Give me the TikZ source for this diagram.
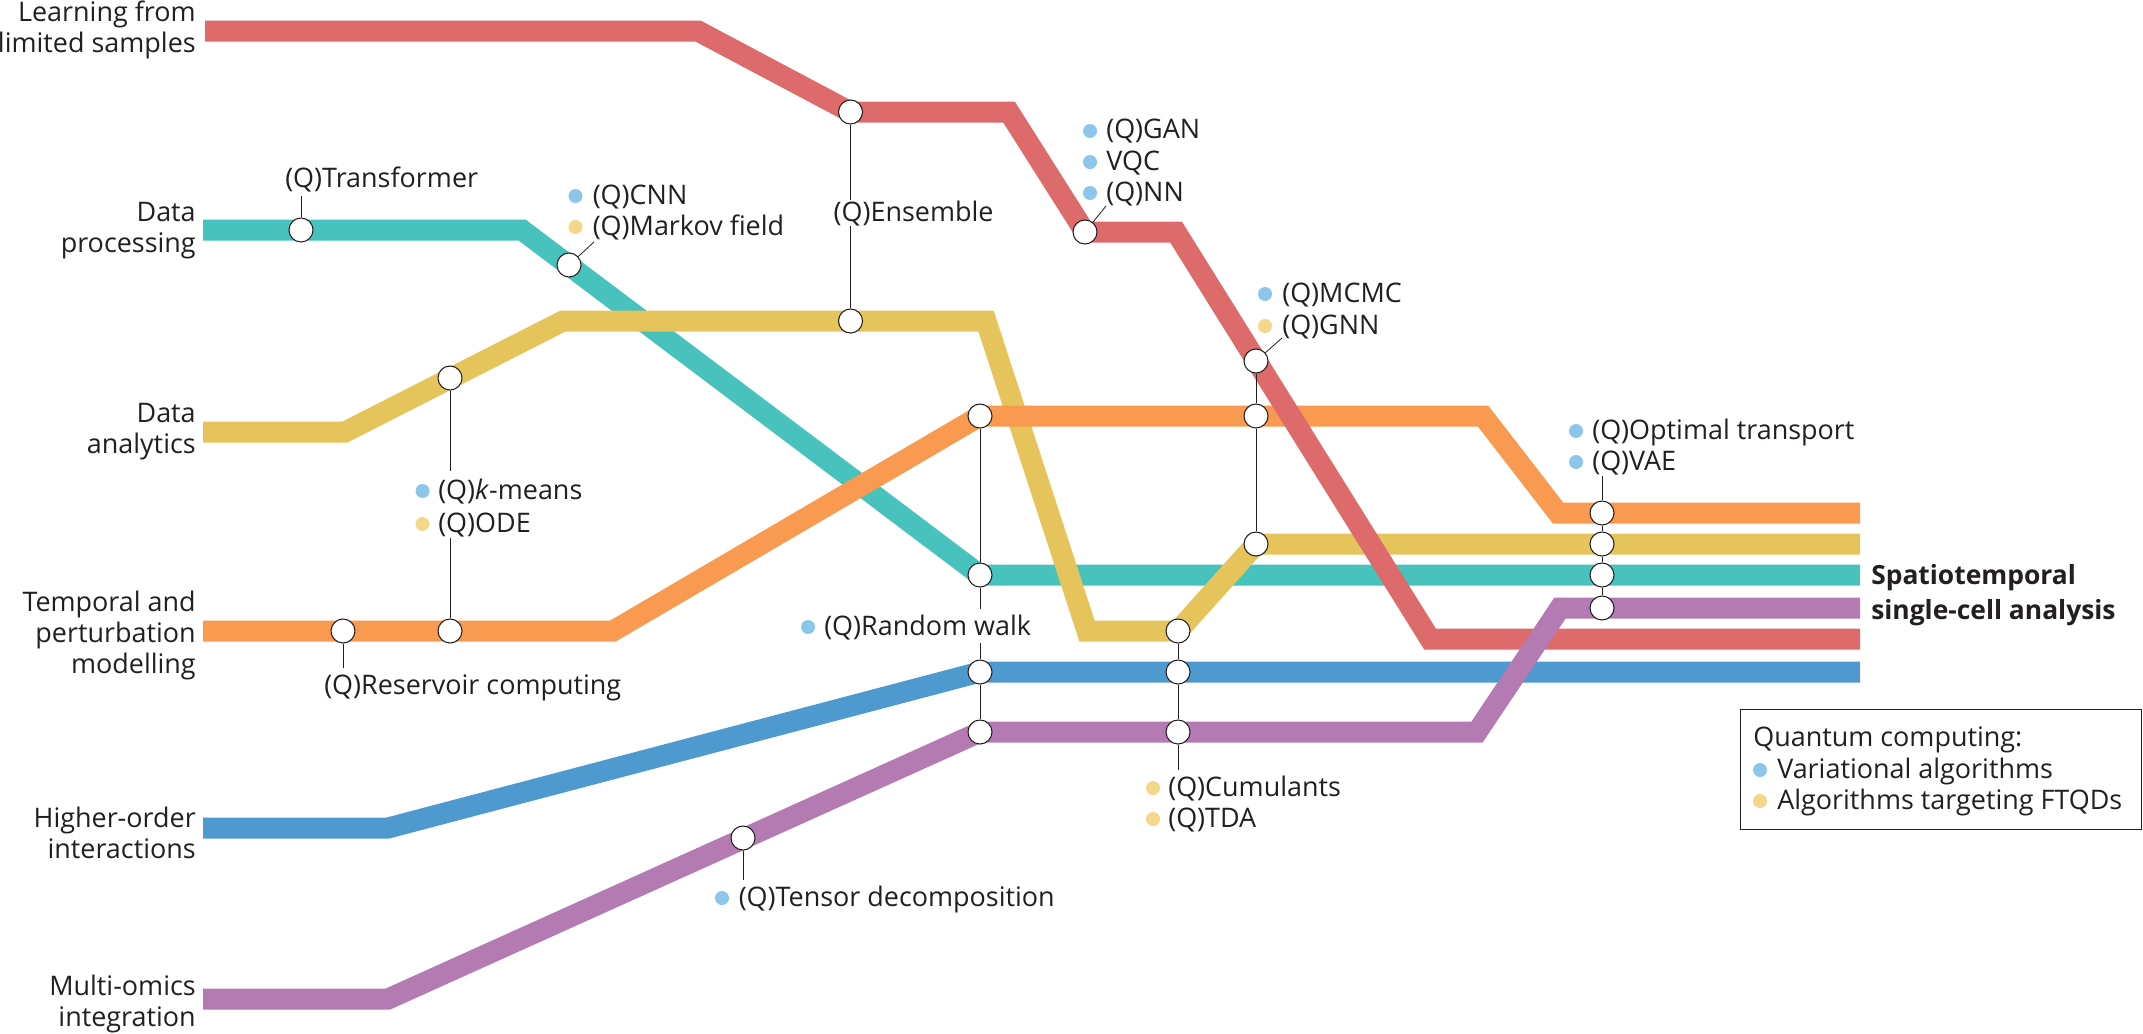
\documentclass[tikz,border=0pt]{standalone}
\usepackage{fontspec}
\setmainfont{Open Sans}
\usetikzlibrary{backgrounds}
\definecolor{routeRed}{HTML}{DD6B6B}
\definecolor{routeTeal}{HTML}{47C2BD}
\definecolor{routeYellow}{HTML}{E6C45C}
\definecolor{routeOrange}{HTML}{F89A4F}
\definecolor{routeBlue}{HTML}{4E99CE}
\definecolor{routePurple}{HTML}{B37BB2}
\definecolor{dotVar}{HTML}{8CC6EA}
\definecolor{dotFtq}{HTML}{F5D78A}
\definecolor{ink}{HTML}{231F20}
\tikzset{
  route/.style={line width=15.75pt,line join=miter},
  station/.style={circle,draw=ink,fill=white,line width=0.8pt,minimum size=18pt,inner sep=0pt},
  leader/.style={draw=ink,line width=0.6pt},
  algo/.style={anchor=west,inner sep=0pt,text=ink,font=\fontsize{20.2}{23.25}\selectfont,text height=16pt,text depth=3pt},
  topic/.style={anchor=east,align=right,inner sep=0pt,text=ink,font=\fontsize{20.2}{23.25}\selectfont},
  varDot/.style={circle,fill=dotVar,minimum size=10.5pt,inner sep=0pt},
  ftqDot/.style={circle,fill=dotFtq,minimum size=10.5pt,inner sep=0pt}
}
\begin{document}
\begin{tikzpicture}[x=0.75pt,y=0.75pt,yscale=-1,xscale=1]
        \useasboundingbox (0,0) rectangle (2143,1033);
        % Stations
        \foreach \name/\xx/\yy in {ensRed/850.5/112, nnRed/1085/232, gnnRed/1256/361,
            transTeal/301/230, markovTeal/569/265, walkTeal/980/575, vaeTeal/1602/575,
            kmeansYellow/450/378, ensYellow/850.5/321, tdaYellow/1178/631, gnnYellow/1256/544, vaeYellow/1602/544,
            resOrange/343/631, kmeansOrange/450/631, walkOrange/980/416, gnnOrange/1256/416, vaeOrange/1602/513,
            walkBlue/980/672, tdaBlue/1178/672,
            tensorPurple/743/838, walkPurple/980/732, tdaPurple/1178/732, vaePurple/1602/608}
            \node[station] (\name) at (\xx,\yy) {};
        % Free ends of the leaders
        \coordinate (transEnd) at (301,196);
        \coordinate (markovEnd) at (594,242);
        \coordinate (kmeansTop) at (450,471);
        \coordinate (kmeansBot) at (450,538);
        \coordinate (resEnd) at (343,668);
        \coordinate (tensorEnd) at (743,880);
        \coordinate (nnEnd) at (1106,206);
        \coordinate (gnnEnd) at (1282,338);
        \coordinate (vaeEnd) at (1602,476);
        \coordinate (tdaEnd) at (1178,770);
        \coordinate (walkTop) at (980,609);
        \coordinate (walkBot) at (980,643);
        % Bends
        \coordinate (redA) at (205,31);
        \coordinate (redB) at (698,31);
        \coordinate (redC) at (1009,112);
        \coordinate (redD) at (1176,232);
        \coordinate (redE) at (1430,639);
        \coordinate (redF) at (1860,639);
        \coordinate (tealA) at (203,230);
        \coordinate (tealB) at (522,230);
        \coordinate (tealC) at (1860,575);
        \coordinate (yelA) at (203,432);
        \coordinate (yelB) at (345,432);
        \coordinate (yelC) at (563,321);
        \coordinate (yelD) at (986,321);
        \coordinate (yelE) at (1087,631);
        \coordinate (yelF) at (1860,544);
        \coordinate (oraA) at (203,631);
        \coordinate (oraB) at (613,631);
        \coordinate (oraC) at (1483,416);
        \coordinate (oraD) at (1558,513);
        \coordinate (oraE) at (1860,513);
        \coordinate (bluA) at (203,828);
        \coordinate (bluB) at (388,828);
        \coordinate (bluC) at (1860,672);
        \coordinate (purA) at (203,999);
        \coordinate (purB) at (388,999);
        \coordinate (purC) at (1477,732);
        \coordinate (purD) at (1560,608);
        \coordinate (purE) at (1860,608);
        \begin{scope}[on background layer]
        %Routes
        \draw [route,routeTeal] (tealA) -- (tealB) -- (walkTeal.center) -- (tealC);
        \draw [route,routeYellow] (yelA) -- (yelB) -- (yelC) -- (yelD) -- (yelE) -- (tdaYellow.center) -- (gnnYellow.center) -- (yelF);
        \draw [route,routeOrange] (oraA) -- (oraB) -- (walkOrange.center) -- (oraC) -- (oraD) -- (oraE);
        \draw [route,routeBlue] (bluA) -- (bluB) -- (walkBlue.center) -- (bluC);
        \draw [route,routeRed] (redA) -- (redB) -- (ensRed.center) -- (redC) -- (nnRed.center) -- (redD) -- (redE) -- (redF);
        \draw [route,routePurple] (purA) -- (purB) -- (walkPurple.center) -- (purC) -- (purD) -- (purE);
        %Straight Lines
        \draw [leader] (transTeal) -- (transEnd);
        \draw [leader] (markovTeal) -- (markovEnd);
        \draw [leader] (ensRed) -- (ensYellow);
        \draw [leader] (kmeansYellow) -- (kmeansTop);
        \draw [leader] (kmeansBot) -- (kmeansOrange);
        \draw [leader] (resOrange) -- (resEnd);
        \draw [leader] (tensorPurple) -- (tensorEnd);
        \draw [leader] (walkOrange) -- (walkTeal);
        \draw [leader] (walkTeal) -- (walkTop);
        \draw [leader] (walkBot) -- (walkBlue);
        \draw [leader] (walkBlue) -- (walkPurple);
        \draw [leader] (nnRed) -- (nnEnd);
        \draw [leader] (gnnRed) -- (gnnEnd);
        \draw [leader] (gnnRed) -- (gnnOrange);
        \draw [leader] (gnnOrange) -- (gnnYellow);
        \draw [leader] (tdaYellow) -- (tdaBlue);
        \draw [leader] (tdaBlue) -- (tdaPurple);
        \draw [leader] (tdaPurple) -- (tdaEnd);
        \draw [leader] (vaeOrange) -- (vaeEnd);
        \draw [leader] (vaeOrange) -- (vaeYellow);
        \draw [leader] (vaeYellow) -- (vaeTeal);
        \draw [leader] (vaeTeal) -- (vaePurple);
        \end{scope}
        % Text Node
        \node [topic] (learnText) at (196,29.5) {Learning from\\limited samples};
        \node [topic] (procText) at (196,231) {Data\\processing};
        \node [topic] (analyText) at (196,432) {Data\\analytics};
        \node [topic] (tempText) at (196,635) {Temporal and\\perturbation\\modelling};
        \node [topic] (higherText) at (196,833) {Higher-order\\interactions};
        \node [topic] (omicsText) at (196,1004) {Multi-omics\\integration};
        \node [algo] (transText) at (285,179) {(Q)Transformer};
        \node [algo,fill=white,inner xsep=1pt] (ensText) at (832,213) {(Q)Ensemble};
        \node [algo] (resText) at (324,686) {(Q)Reservoir computing};
        % Tagged algorithms
        \node [varDot] (cnnDot) at (575.5,196) {};
        \node [algo] (cnnText) at (592.5,196) {(Q)CNN};
        \node [ftqDot] (markovDot) at (575.5,227) {};
        \node [algo] (markovText) at (592.5,227) {(Q)Markov field};
        \node [varDot] (kmeansDot) at (422.5,491) {};
        \node [algo] (kmeansText) at (438,491) {(Q)\textit{k}-means};
        \node [ftqDot] (odeDot) at (422.5,524) {};
        \node [algo] (odeText) at (438,524) {(Q)ODE};
        \node [varDot] (walkDot) at (808,627) {};
        \node [algo] (walkText) at (824,627) {(Q)Random walk};
        \node [varDot] (tensorDot) at (722,898) {};
        \node [algo] (tensorText) at (738.5,898) {(Q)Tensor decomposition};
        \node [varDot] (ganDot) at (1090,131) {};
        \node [algo] (ganText) at (1106,130) {(Q)GAN};
        \node [varDot] (vqcDot) at (1090,162) {};
        \node [algo] (vqcText) at (1106,162) {VQC};
        \node [varDot] (nnDot) at (1090,193) {};
        \node [algo] (nnText) at (1106,193) {(Q)NN};
        \node [varDot] (mcmcDot) at (1265,294) {};
        \node [algo] (mcmcText) at (1282,294) {(Q)MCMC};
        \node [ftqDot] (gnnDot) at (1265,326) {};
        \node [algo] (gnnText) at (1282,326) {(Q)GNN};
        \node [varDot] (otDot) at (1576,431) {};
        \node [algo] (otText) at (1592,431) {(Q)Optimal transport};
        \node [varDot] (vaeDot) at (1576,462) {};
        \node [algo] (vaeText) at (1592,462) {(Q)VAE};
        \node [ftqDot] (cumDot) at (1153,788) {};
        \node [algo] (cumText) at (1168,788) {(Q)Cumulants};
        \node [ftqDot] (tdaDot) at (1153,819) {};
        \node [algo] (tdaText) at (1168,819) {(Q)TDA};
        \node [anchor=west,align=left,inner sep=0pt,text=ink,font=\fontsize{19.8}{26.5}\selectfont\bfseries] (stText) at (1871,595) {Spatiotemporal\\single-cell analysis};
        % Legend
        \node [draw=ink,line width=0.8pt,minimum width=301pt,minimum height=90pt,inner sep=0pt,anchor=north west] (legendBox) at (1740,709) {};
        \node [algo] (legendTitle) at (1753,738) {Quantum computing:};
        \node [varDot] (legVarDot) at (1760,770) {};
        \node [algo] (legVarText) at (1777,770) {Variational algorithms};
        \node [ftqDot] (legFtqDot) at (1760,801) {};
        \node [algo] (legFtqText) at (1777,801) {Algorithms targeting FTQDs};
\end{tikzpicture}
\end{document}
